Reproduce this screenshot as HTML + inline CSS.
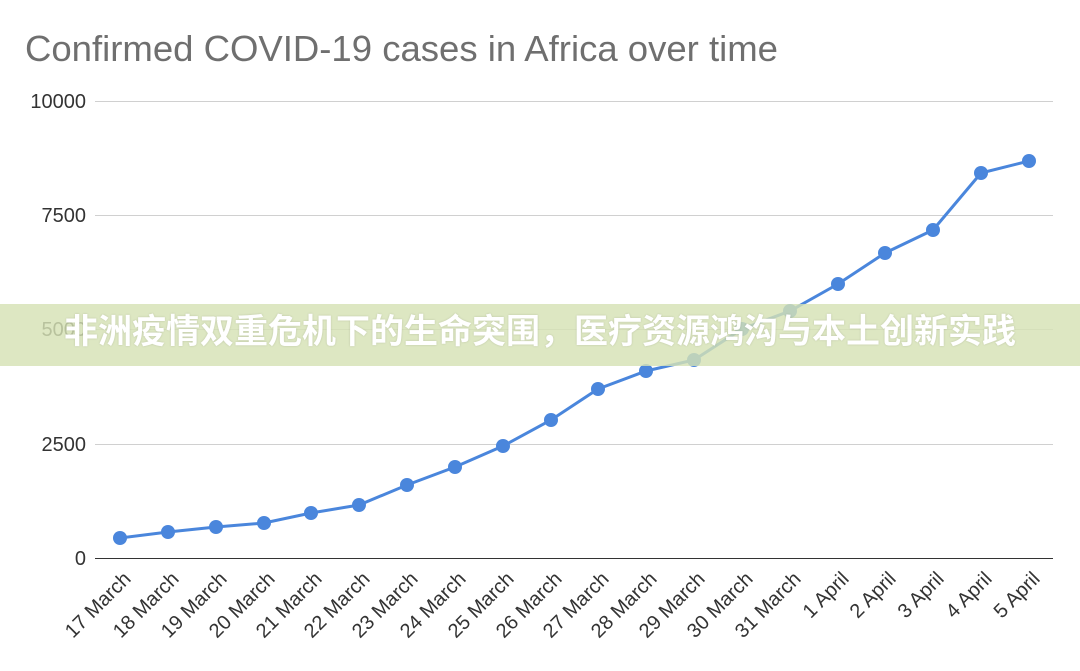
<!DOCTYPE html>
<html><head><meta charset="utf-8"><style>
body{margin:0;background:#fff;}
.w{position:relative;width:1080px;height:671px;overflow:hidden;font-family:"Liberation Sans",Arial,sans-serif;}
.band{position:absolute;left:0;top:304px;width:1080px;height:62px;background:rgba(214,226,180,0.82);}
.bt{position:absolute;left:0;top:304px;width:1080px;height:62px;line-height:62px;text-align:center;color:#fff;font:bold 34px "Liberation Sans","Noto Sans CJK SC",sans-serif;white-space:nowrap;text-shadow:0 0 2px rgba(0,0,0,0.15);}
</style></head><body><div class="w">
<svg width="1080" height="671" style="position:absolute;left:0;top:0">
<text x="25" y="61" font-size="36" fill="#6f6f6f" font-family="Liberation Sans" textLength="753" lengthAdjust="spacingAndGlyphs">Confirmed COVID-19 cases in Africa over time</text>
<g stroke="#d0d0d0" stroke-width="1">
<line x1="95" x2="1053" y1="101.5" y2="101.5"/><line x1="95" x2="1053" y1="215.5" y2="215.5"/><line x1="95" x2="1053" y1="329.5" y2="329.5"/><line x1="95" x2="1053" y1="444.5" y2="444.5"/>
</g>
<line x1="95" x2="1053" y1="558.5" y2="558.5" stroke="#333" stroke-width="1"/>
<g font-size="20" fill="#333" text-anchor="end" font-family="Liberation Sans">
<text x="86" y="108">10000</text><text x="86" y="222">7500</text><text x="86" y="336">5000</text><text x="86" y="451">2500</text><text x="86" y="565">0</text>
</g>
<polyline fill="none" stroke="#4a86dc" stroke-width="3" points="120,538 168,532 216,527 264,523 311,513 359,505 407,485 455,467 503,446 551,420 598,389 646,371 694,360 742,329 790,311 838,284 885,253 933,230 981,173 1029,161"/>
<g fill="#4a86dc">
<circle cx="120" cy="538" r="7"/><circle cx="168" cy="532" r="7"/><circle cx="216" cy="527" r="7"/><circle cx="264" cy="523" r="7"/><circle cx="311" cy="513" r="7"/><circle cx="359" cy="505" r="7"/><circle cx="407" cy="485" r="7"/><circle cx="455" cy="467" r="7"/><circle cx="503" cy="446" r="7"/><circle cx="551" cy="420" r="7"/><circle cx="598" cy="389" r="7"/><circle cx="646" cy="371" r="7"/><circle cx="694" cy="360" r="7"/><circle cx="742" cy="329" r="7"/><circle cx="790" cy="311" r="7"/><circle cx="838" cy="284" r="7"/><circle cx="885" cy="253" r="7"/><circle cx="933" cy="230" r="7"/><circle cx="981" cy="173" r="7"/><circle cx="1029" cy="161" r="7"/>
</g>
<g font-size="20" fill="#333" text-anchor="end" font-family="Liberation Sans">
<text transform="translate(132,580) rotate(-45)">17 March</text>
<text transform="translate(180,580) rotate(-45)">18 March</text>
<text transform="translate(228,580) rotate(-45)">19 March</text>
<text transform="translate(276,580) rotate(-45)">20 March</text>
<text transform="translate(323,580) rotate(-45)">21 March</text>
<text transform="translate(371,580) rotate(-45)">22 March</text>
<text transform="translate(419,580) rotate(-45)">23 March</text>
<text transform="translate(467,580) rotate(-45)">24 March</text>
<text transform="translate(515,580) rotate(-45)">25 March</text>
<text transform="translate(563,580) rotate(-45)">26 March</text>
<text transform="translate(610,580) rotate(-45)">27 March</text>
<text transform="translate(658,580) rotate(-45)">28 March</text>
<text transform="translate(706,580) rotate(-45)">29 March</text>
<text transform="translate(754,580) rotate(-45)">30 March</text>
<text transform="translate(802,580) rotate(-45)">31 March</text>
<text transform="translate(850,580) rotate(-45)">1 April</text>
<text transform="translate(897,580) rotate(-45)">2 April</text>
<text transform="translate(945,580) rotate(-45)">3 April</text>
<text transform="translate(993,580) rotate(-45)">4 April</text>
<text transform="translate(1041,580) rotate(-45)">5 April</text>
</g>
</svg>
<div class="band"></div>
<div class="bt">非洲疫情双重危机下的生命突围，医疗资源鸿沟与本土创新实践</div>
</div></body></html>
